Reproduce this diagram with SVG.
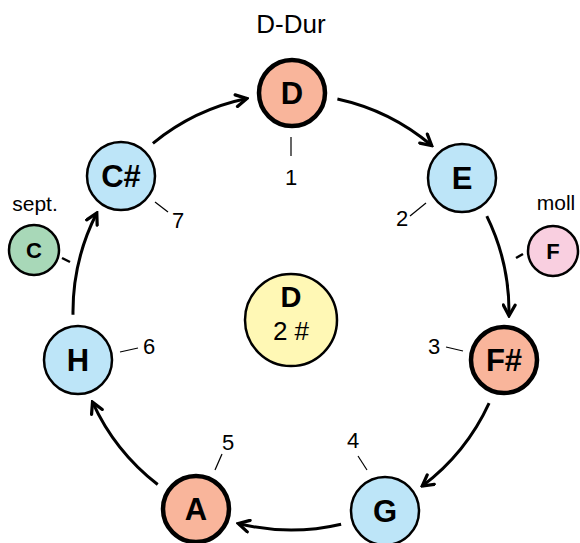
<svg xmlns="http://www.w3.org/2000/svg" width="580" height="543" viewBox="0 0 580 543">
  <defs>
    <marker id="arr" viewBox="0 0 14 14" refX="12" refY="7" markerWidth="15" markerHeight="15" markerUnits="userSpaceOnUse" orient="auto">
      <path d="M2,1.5 L12,7 L2,12.5" fill="none" stroke="#000" stroke-width="3" stroke-linecap="round" stroke-linejoin="miter"/>
    </marker>
  </defs>
  <style>
    text { font-family: "Liberation Sans", Arial, sans-serif; fill: #000; }
    .node { stroke: #000; stroke-width: 2.5; }
    .key { stroke-width: 4.5; }
    .tonic { fill: #F9B59B; }
    .blue { fill: #BDE5F8; }
    .green { fill: #A8D8B8; }
    .pink { fill: #F9CFE0; }
    .yellow { fill: #FFF8B5; }
    .lbl { font-size: 31px; font-weight: bold; text-anchor: middle; }
    .small { font-size: 22px; font-weight: bold; text-anchor: middle; }
    .num { font-size: 22px; text-anchor: middle; }
    .cap { font-size: 21px; text-anchor: middle; }
    .tick { stroke: #000; stroke-width: 1.2; }
    .stub { stroke: #000; stroke-width: 2.5; }
    .conn { fill: none; stroke: #000; stroke-width: 3; marker-end: url(#arr); }
  </style>

  <g id="connectors">
    <path class="conn" d="M152.9,143.3 A218,218 0 0 1 246.8,98.5"/>
    <path class="conn" d="M337.4,99 A218,218 0 0 1 431.7,145.5"/>
    <path class="conn" d="M486.8,216.1 A218,218 0 0 1 509,315.8"/>
    <path class="conn" d="M489.1,403.1 A218,218 0 0 1 422.2,486.1"/>
    <path class="conn" d="M341.1,524.2 A218,218 0 0 1 238.3,523.5"/>
    <path class="conn" d="M157.7,484.5 A218,218 0 0 1 92.5,402.1"/>
    <path class="conn" d="M73,314.7 A218,218 0 0 1 96.8,213"/>
  </g>

  <g id="ticks">
    <line class="tick" x1="291" y1="137" x2="291" y2="156"/>
    <line class="tick" x1="410" y1="216" x2="426" y2="203"/>
    <line class="tick" x1="446" y1="347" x2="463" y2="351"/>
    <line class="tick" x1="358" y1="456" x2="367" y2="470"/>
    <line class="tick" x1="215" y1="470" x2="222" y2="454"/>
    <line class="tick" x1="120" y1="352" x2="138" y2="348"/>
    <line class="tick" x1="155" y1="202" x2="168" y2="212"/>
    <line class="stub" x1="62" y1="258" x2="70" y2="262"/>
    <line class="stub" x1="516" y1="258" x2="523" y2="254"/>
  </g>

  <g id="labels">
    <text class="cap" x="291" y="33" style="font-size:26px">D-Dur</text>
    <text class="num" x="291" y="185">1</text>
    <text class="num" x="402" y="226">2</text>
    <text class="num" x="434" y="354">3</text>
    <text class="num" x="353" y="448">4</text>
    <text class="num" x="228" y="450">5</text>
    <text class="num" x="149" y="354">6</text>
    <text class="num" x="178" y="228">7</text>
    <text class="cap" x="35" y="211">sept.</text>
    <text class="cap" x="556" y="210">moll</text>
  </g>

  <g id="node-D">
    <circle class="node key tonic" cx="292" cy="93" r="33"/>
    <text class="lbl" x="292" y="104">D</text>
  </g>
  <g id="node-E">
    <circle class="node blue" cx="462" cy="178" r="34"/>
    <text class="lbl" x="462" y="189">E</text>
  </g>
  <g id="node-Fis">
    <circle class="node key tonic" cx="504" cy="360" r="33"/>
    <text class="lbl" x="504" y="371">F#</text>
  </g>
  <g id="node-G">
    <circle class="node blue" cx="385" cy="511" r="34"/>
    <text class="lbl" x="385" y="522">G</text>
  </g>
  <g id="node-A">
    <circle class="node key tonic" cx="196" cy="509" r="33"/>
    <text class="lbl" x="196" y="520">A</text>
  </g>
  <g id="node-H">
    <circle class="node blue" cx="78" cy="360" r="34"/>
    <text class="lbl" x="78" y="371">H</text>
  </g>
  <g id="node-Cis">
    <circle class="node blue" cx="121" cy="176" r="34"/>
    <text class="lbl" x="121" y="187">C#</text>
  </g>
  <g id="node-C">
    <circle class="node green" cx="34" cy="250" r="25"/>
    <text class="small" x="34" y="258">C</text>
  </g>
  <g id="node-F">
    <circle class="node pink" cx="553" cy="251" r="25"/>
    <text class="small" x="553" y="259">F</text>
  </g>
  <g id="node-center">
    <circle class="node yellow" cx="291" cy="320" r="46"/>
    <text x="291" y="307" style="font-size:29px;font-weight:bold;text-anchor:middle">D</text>
    <text x="291" y="340" style="font-size:26px;text-anchor:middle">2 #</text>
  </g>
</svg>
